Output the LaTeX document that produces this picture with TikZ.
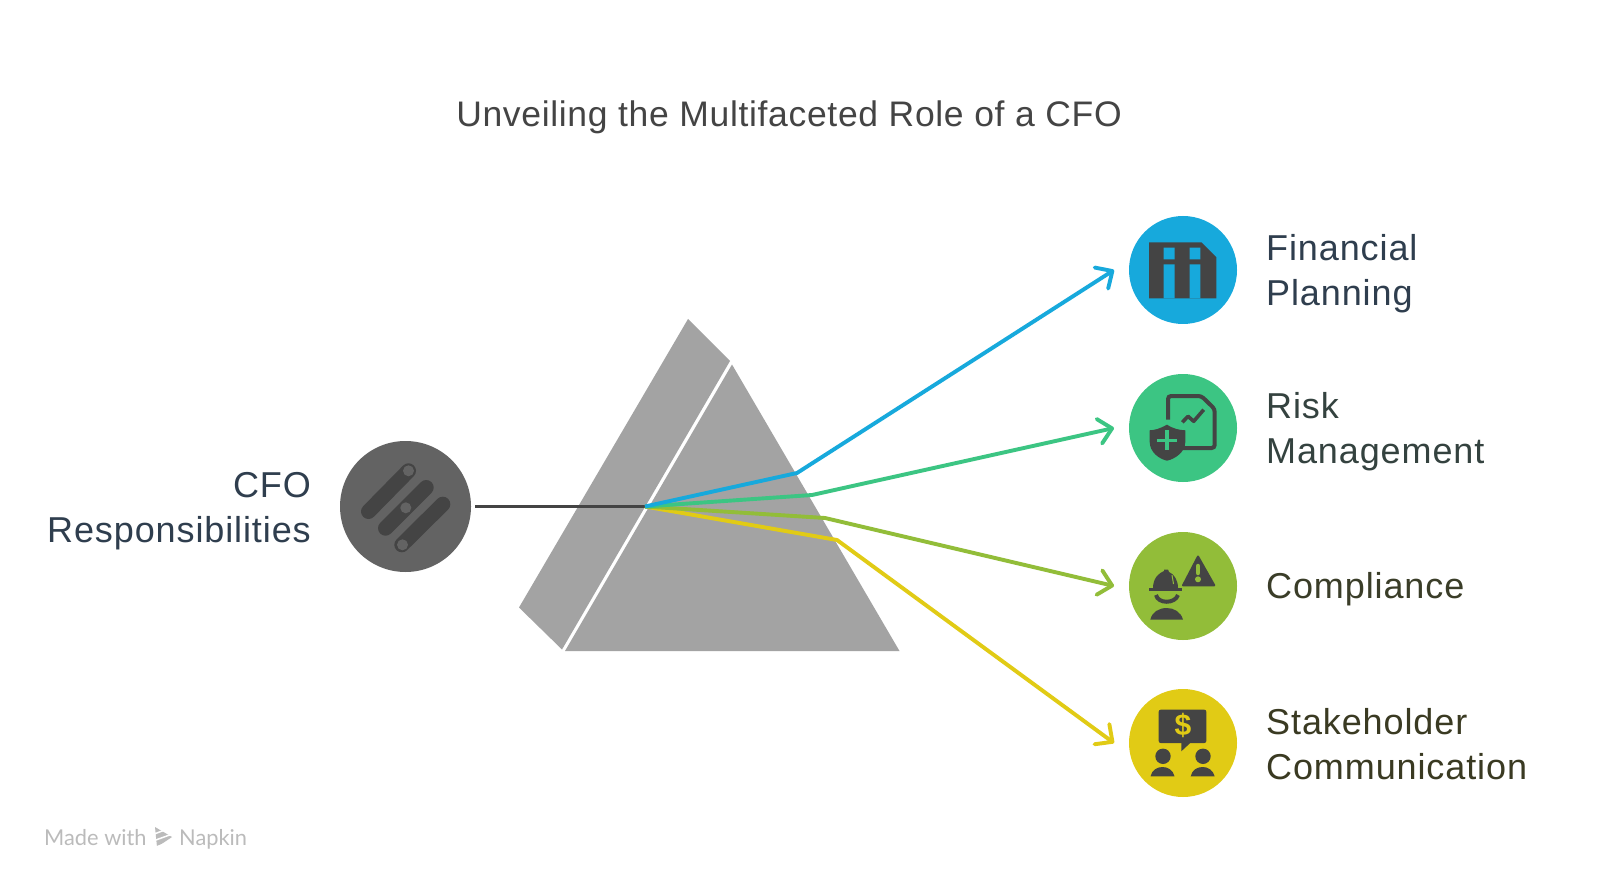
\documentclass[tikz,border=0pt]{standalone}
\usepackage{fontspec}
\setmainfont{Liberation Sans}
\newfontfamily\markfont{Lato}
\newfontfamily\wideregular[LetterSpace=2.5]{Liberation Sans}
\newfontfamily\titlefont[LetterSpace=1.9]{Liberation Sans}
\usetikzlibrary{arrows.meta}
\definecolor{cblue}{HTML}{17A9DC}
\definecolor{cgreen}{HTML}{3CC583}
\definecolor{colive}{HTML}{92BD39}
\definecolor{cyellow}{HTML}{E1CB15}
\definecolor{cicon}{HTML}{444444}
\definecolor{cprism}{HTML}{A3A3A3}
\definecolor{cgrey}{HTML}{636363}
\definecolor{cmark}{HTML}{BBBBBB}
\definecolor{tslate}{HTML}{2F3E4E}
\definecolor{tteal}{HTML}{34423F}
\definecolor{tmoss}{HTML}{3A3D28}
\definecolor{tdrab}{HTML}{3A3A22}
\tikzset{
  x=1pt,y=-1pt,
  disc/.style={circle,inner sep=0pt,minimum size=108pt,fill=#1},
  label text/.style={font=\wideregular\fontsize{36}{45}\selectfont,align=left,inner sep=0pt,text=#1},
  ray/.style={line width=3.9pt,draw=#1,line join=round},
  tipped/.style={ray=#1,-{Straight Barb[length=13pt,width=25pt,round]}},
  ink/.style={fill=cicon,draw=none},
}
\begin{document}
\begin{tikzpicture}
\useasboundingbox (0,0) rectangle (1600,890);
\fill[white] (0,0) rectangle (1600,890);
% title
\node[font=\titlefont\fontsize{35.5}{42}\selectfont,text=cicon,inner sep=0pt,anchor=base] (title) at (789,127) {Unveiling the Multifaceted Role of a CFO};
% prism
\fill[cprism] (732,364.5) -- (899.5,651) -- (565,651) -- cycle;
\fill[cprism] (688,319) -- (730,361) -- (562,649.5) -- (519,607.5) -- cycle;
% nodes
\node[disc=cgrey,minimum size=131pt] (cfo) at (405.5,506.5) {};
\node[disc=cblue] (fin) at (1183,270) {};
\node[disc=cgreen] (risk) at (1183,428) {};
\node[disc=colive] (comp) at (1183,586) {};
\node[disc=cyellow] (stake) at (1183,743) {};
\coordinate (apex) at (645,506.5);
\coordinate (bfin) at (797,473);
\coordinate (brisk) at (812,495);
\coordinate (bcomp) at (825,518);
\coordinate (bstake) at (837,540);
\coordinate (efin) at (1114,270);
\coordinate (erisk) at (1114,428);
\coordinate (ecomp) at (1114,586);
\coordinate (estake) at (1114,743);
\coordinate (start) at (475,506.5);
% connectors
\draw[ray=cicon] (start) -- (apex);
\draw[tipped=cyellow] (apex) -- (bstake) -- (estake);
\draw[tipped=colive] (apex) -- (bcomp) -- (ecomp);
\draw[tipped=cgreen] (apex) -- (brisk) -- (erisk);
\draw[tipped=cblue] (apex) -- (bfin) -- (efin);
% labels
\node[label text=tslate,anchor=east,align=right] (lcfo) at (311,511) {CFO\\Responsibilities};
\node[label text=tslate,anchor=west] (lfin) at (1266,274) {Financial\\Planning};
\node[label text=tteal,anchor=west] (lrisk) at (1266,432) {Risk\\Management};
\node[label text=tmoss,anchor=west] (lcomp) at (1266,589) {Compliance};
\node[label text=tdrab,anchor=west] (lstake) at (1266,744) {Stakeholder\\Communication};
% icon: CFO
\begin{scope}[shift={(cfo.center)}]
\draw[line width=15pt,line cap=round,draw=cicon] (-37,5) -- (3,-35.7);
\draw[line width=15pt,line cap=round,draw=cicon] (-20,21.7) -- (20.7,-19);
\draw[line width=15pt,line cap=round,draw=cicon] (-3.7,38.3) -- (37.3,-2.3);
\fill[cgrey] (3,-35.7) circle[radius=5.5] (0.3,1.3) circle[radius=5.5] (-3,38.3) circle[radius=5.5];
\end{scope}
% icon: financial
\begin{scope}[shift={(fin.center)}]
\fill[ink] (-34,-27.7) -- (18.3,-27.7) -- (33.3,-12.7) -- (33.3,28.3) -- (-34,28.3) -- cycle;
\fill[cblue] (-19.3,-22.3) rectangle (-8.3,-10.7) (6.7,-22.3) rectangle (17.3,-10.7)
  (-19.3,-5.7) rectangle (-8.3,28.3) (6.7,-5.7) rectangle (17.3,28.3);
\end{scope}
% icon: risk
\begin{scope}[shift={(risk.center)}]
\draw[cicon,line width=4pt,rounded corners=3pt] (-15,-8.3) -- (-15,-32) -- (18.3,-32) -- (31.7,-19) -- (31.7,20) -- (-6.7,20);
\draw[cicon,line width=3.6pt,line join=round] (-0.7,-5.7) -- (5,-11.7) -- (10.7,-6.7) -- (20.7,-18.3);
\fill[ink] (-16,-3.3) .. controls (-24,1) and (-28,2) .. (-33.3,2.3) -- (-33.3,14) .. controls (-33.3,24) and (-24,31) .. (-16,32.7) .. controls (-8,31) and (2.3,24) .. (2.3,14) -- (2.3,2.3) .. controls (-4,2) and (-9,1) .. (-16,-3.3) -- cycle;
\draw[cgreen,line width=3.5pt] (-26,12.3) -- (-6,12.3) (-16,2.3) -- (-16,22.3);
\end{scope}
% icon: compliance
\begin{scope}[shift={(comp.center)}]
\filldraw[cicon,line width=2pt,line join=round] (15,-29.5) -- (31.3,-0.7) -- (0,-0.7) -- cycle;
\draw[colive,line width=4.5pt,line cap=round] (15,-20) -- (15,-13);
\fill[colive] (15,-6.7) circle[radius=3];
\fill[ink] (-30,2) .. controls (-30,-8) and (-24,-13) .. (-19,-15) -- (-19,-16.5) -- (-15,-16.5) -- (-14,-14) .. controls (-9,-12) and (-5,-6) .. (-5,2) -- cycle;
\fill[ink] (-34,1.7) rectangle (-0.7,5);
\draw[colive,line width=1pt] (-11,-11) -- (-9.5,-2);
\draw[cicon,line width=4pt] (-27,9) .. controls (-25,18) and (-8,18) .. (-5,9);
\fill[ink] (-32.7,33.7) .. controls (-31,26) and (-24,22) .. (-16.3,22) .. controls (-9,22) and (-2,26) .. (0,33.7) -- cycle;
\end{scope}
% icon: stakeholder
\begin{scope}[shift={(stake.center)}]
\fill[ink,rounded corners=2pt] (-24.3,-33.3) rectangle (23.3,0);
\fill[ink] (-1.7,-1) -- (8.3,-1) -- (-1.7,8.3) -- cycle;
\node[font=\bfseries\fontsize{30}{30}\selectfont,text=cyellow,inner sep=0pt] (dollar) at (0,-18) {\$};
\fill[ink] (-20,13.3) circle[radius=7.7] (20,13.3) circle[radius=7.7];
\fill[ink] (-32.5,33.3) .. controls (-31,27) and (-26,24) .. (-20.5,24) .. controls (-15,24) and (-10,27) .. (-8.5,33.3) -- cycle;
\fill[ink] (7.7,33.3) .. controls (9,27) and (14,24) .. (19.7,24) .. controls (25,24) and (30,27) .. (31.7,33.3) -- cycle;
\end{scope}
% watermark
\node[font=\markfont\fontsize{21.8}{22}\selectfont,text=cmark,inner sep=0pt,anchor=base west] (made) at (44,845) {Made with};
\node[font=\markfont\fontsize{21.8}{22}\selectfont,text=cmark,inner sep=0pt,anchor=base west] (nap) at (179,845) {Napkin};
\fill[cmark] (155,827) -- (172,837) -- (157,847) -- cycle;
\draw[white,line width=1.5pt] (153,834.5) -- (166,829.5) (153,841) -- (171,834.5) (155,847.5) -- (173,840.5);
\end{tikzpicture}
\end{document}
